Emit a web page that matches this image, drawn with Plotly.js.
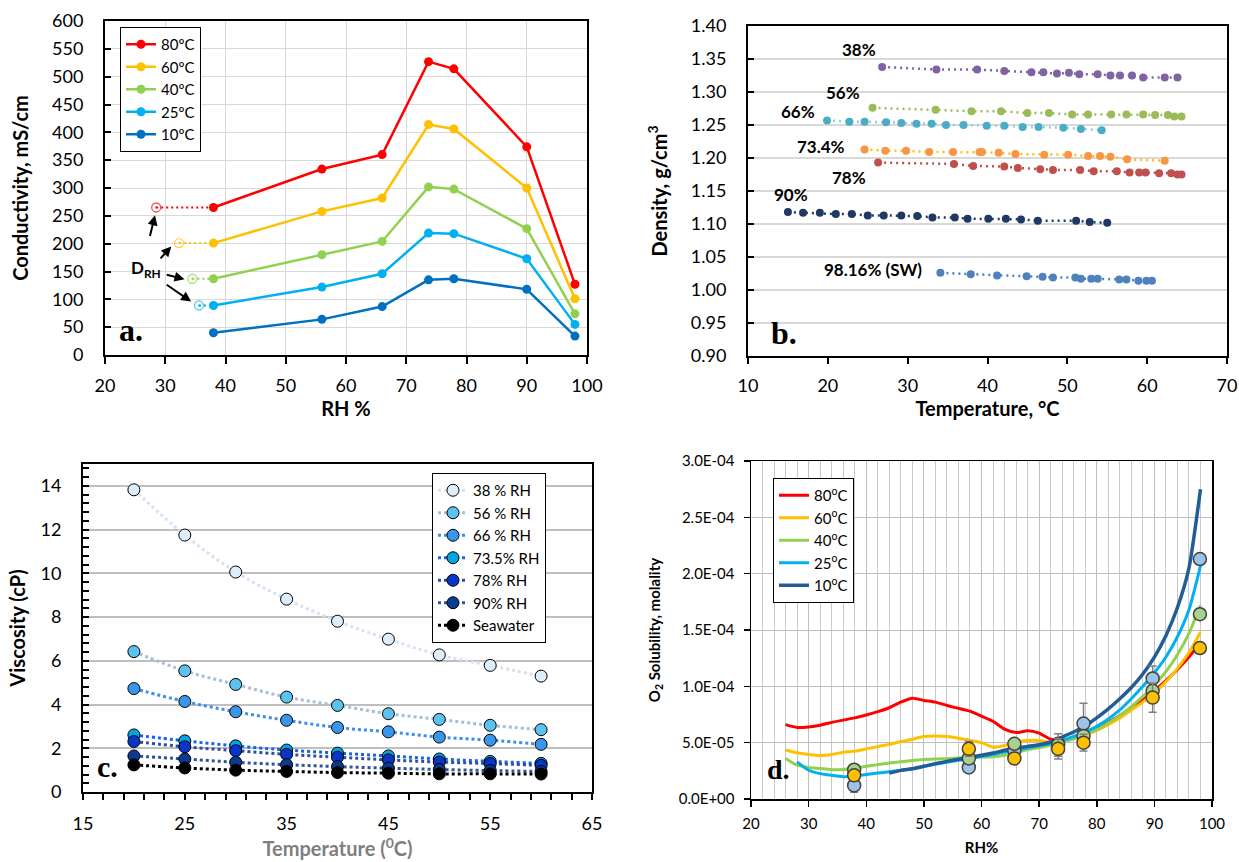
<!DOCTYPE html>
<html>
<head>
<meta charset="utf-8">
<script src="https://cdn.plot.ly/plotly-3.0.1.min.js"></script>
<style>html,body{margin:0;padding:0;background:#fff}#chart{width:1239px;height:862px}</style>
</head>
<body>
<div id="chart"></div>
<script>
// ---------- Panel a: conductivity vs RH ----------
const aRH = [38, 56, 66, 73.7, 77.9, 90, 98];
const aNames = ['80ºC', '60ºC', '40ºC', '25ºC', '10ºC'];
const a80 = [265, 334, 360, 527, 514, 374, 127];
const a60 = [201, 258, 282, 414, 406, 300, 101];
const a40 = [137, 180, 204, 302, 298, 227, 74];
const a25 = [89, 122, 146, 219, 218, 173, 55];
const a10 = [40, 64, 87, 135, 137, 118, 34];
const aDrhRH = [28.5, 32.3, 34.5, 35.6];
const aDrhVal = [265, 201, 137, 89];

// ---------- Panel b: density vs temperature ----------
const bLabels = ['38%', '56%', '66%', '73.4%', '78%', '90%', '98.16% (SW)'];
const b38T = [26.8, 33.6, 38.7, 42.1, 45.5, 47.0, 48.7, 50.2, 51.5, 53.8, 55.4, 56.6, 58.1, 59.5, 62.2, 63.8];
const b38D = [1.338, 1.334, 1.334, 1.332, 1.330, 1.330, 1.328, 1.329, 1.327, 1.327, 1.325, 1.325, 1.325, 1.322, 1.322, 1.322];
const b56T = [25.6, 33.5, 38.0, 41.7, 45.0, 47.7, 50.6, 52.6, 55.5, 57.4, 59.5, 61.0, 62.6, 63.4, 64.3];
const b56D = [1.276, 1.273, 1.271, 1.271, 1.268, 1.268, 1.266, 1.266, 1.266, 1.266, 1.266, 1.265, 1.265, 1.263, 1.263];
const b66T = [19.9, 22.7, 24.6, 27.3, 29.2, 31.1, 33.0, 34.8, 37.0, 39.9, 42.1, 44.4, 46.4, 49.5, 51.7, 54.3];
const b66D = [1.257, 1.255, 1.255, 1.254, 1.253, 1.252, 1.252, 1.250, 1.250, 1.249, 1.249, 1.247, 1.247, 1.246, 1.244, 1.242];
const b73T = [24.6, 27.2, 29.8, 32.7, 35.7, 39.0, 39.3, 41.4, 43.5, 47.1, 50.1, 52.6, 54.1, 55.4, 57.5, 62.2];
const b73D = [1.213, 1.211, 1.211, 1.209, 1.209, 1.209, 1.209, 1.208, 1.206, 1.205, 1.205, 1.203, 1.203, 1.202, 1.198, 1.196];
const b78T = [26.3, 35.8, 38.2, 42.1, 43.8, 46.6, 48.2, 51.6, 53.3, 56.2, 57.8, 59.0, 59.8, 61.5, 63.0, 63.8, 64.3];
const b78D = [1.193, 1.191, 1.188, 1.187, 1.185, 1.183, 1.182, 1.182, 1.180, 1.180, 1.178, 1.178, 1.178, 1.177, 1.177, 1.175, 1.175];
const b90T = [15.0, 16.9, 19.0, 21.0, 23.0, 25.0, 27.0, 29.2, 31.2, 33.1, 35.9, 37.5, 40.1, 42.3, 44.2, 46.3, 51.1, 52.8, 55.0];
const b90D = [1.118, 1.117, 1.117, 1.115, 1.115, 1.113, 1.113, 1.113, 1.112, 1.110, 1.110, 1.108, 1.108, 1.108, 1.107, 1.105, 1.105, 1.103, 1.102];
const bSWT = [34.1, 37.9, 41.2, 44.9, 46.9, 48.2, 51.0, 51.7, 53.0, 53.8, 56.5, 57.4, 58.9, 59.9, 60.6];
const bSWD = [1.026, 1.024, 1.022, 1.021, 1.020, 1.019, 1.019, 1.017, 1.017, 1.017, 1.016, 1.016, 1.014, 1.014, 1.014];

// ---------- Panel c: viscosity vs temperature ----------
const cT = [20, 25, 30, 35, 40, 45, 50, 55, 60];
const cNames = ['38 % RH', '56 % RH', '66 % RH', '73.5% RH', '78% RH', '90% RH', 'Seawater'];
const c38 = [13.82, 11.75, 10.06, 8.82, 7.81, 6.99, 6.27, 5.79, 5.30];
const c56 = [6.42, 5.54, 4.92, 4.34, 3.96, 3.58, 3.32, 3.05, 2.85];
const c66 = [4.73, 4.14, 3.67, 3.28, 2.95, 2.75, 2.51, 2.37, 2.18];
const c73 = [2.61, 2.34, 2.11, 1.92, 1.78, 1.65, 1.51, 1.40, 1.31];
const c78 = [2.31, 2.07, 1.89, 1.72, 1.59, 1.47, 1.37, 1.30, 1.22];
const c90 = [1.65, 1.51, 1.36, 1.25, 1.16, 1.09, 1.03, 0.98, 0.94];
const cSW = [1.24, 1.10, 1.00, 0.94, 0.89, 0.86, 0.83, 0.83, 0.82];

// ---------- Panel d: O2 solubility vs RH ----------
const dNames = ['80<sup>o</sup>C', '60<sup>o</sup>C', '40<sup>o</sup>C', '25<sup>o</sup>C', '10<sup>o</sup>C'];
const dRH = [26, 28, 30, 32, 34, 36, 38, 40, 42, 44, 46, 48, 50, 52, 54, 56, 58, 60, 62, 64, 66, 68, 70, 72, 74, 76, 78, 80, 82, 84, 86, 88, 90, 92, 94, 96, 98];
const d80 = [6.6e-5, 6.35e-5, 6.4e-5, 6.55e-5, 6.8e-5, 7.0e-5, 7.2e-5, 7.45e-5, 7.75e-5, 8.1e-5, 8.6e-5, 8.95e-5, 8.75e-5, 8.6e-5, 8.3e-5, 8.05e-5, 7.8e-5, 7.35e-5, 6.9e-5, 6.2e-5, 5.9e-5, 6.05e-5, 5.85e-5, 5.3e-5, 5.2e-5, 5.4e-5, 5.9e-5, 6.35e-5, 6.8e-5, 7.4e-5, 8.1e-5, 8.8e-5, 9.6e-5, 10.5e-5, 11.5e-5, 12.6e-5, 13.9e-5];
const d60 = [4.35e-5, 4.1e-5, 3.95e-5, 3.85e-5, 3.95e-5, 4.15e-5, 4.25e-5, 4.45e-5, 4.65e-5, 4.85e-5, 5.1e-5, 5.3e-5, 5.55e-5, 5.6e-5, 5.55e-5, 5.4e-5, 5.2e-5, 5.0e-5, 4.6e-5, 4.75e-5, 5.1e-5, 5.2e-5, 5.2e-5, 5.0e-5, 5.1e-5, 5.35e-5, 5.7e-5, 6.1e-5, 6.6e-5, 7.2e-5, 7.9e-5, 8.6e-5, 9.4e-5, 10.4e-5, 11.6e-5, 13.0e-5, 14.8e-5];
const d40 = [3.6e-5, 3.0e-5, 2.8e-5, 2.7e-5, 2.6e-5, 2.62e-5, 2.75e-5, 2.9e-5, 3.05e-5, 3.2e-5, 3.3e-5, 3.42e-5, 3.5e-5, 3.55e-5, 3.58e-5, 3.64e-5, 3.72e-5, 3.73e-5, 3.75e-5, 3.88e-5, 4.08e-5, 4.38e-5, 4.56e-5, 4.76e-5, 5.05e-5, 5.35e-5, 5.75e-5, 6.15e-5, 6.75e-5, 7.4e-5, 8.2e-5, 9.1e-5, 10.1e-5, 11.3e-5, 12.8e-5, 14.7e-5, 17.2e-5];
const d25RH = [28, 30, 32, 34, 36, 38, 40, 42, 44, 46, 48, 50, 52, 54, 56, 58, 60, 62, 64, 66, 68, 70, 72, 74, 76, 78, 80, 82, 84, 86, 88, 90, 92, 94, 96, 98];
const d25 = [3.3e-5, 2.55e-5, 2.25e-5, 2.1e-5, 1.98e-5, 2.05e-5, 2.18e-5, 2.3e-5, 2.42e-5, 2.54e-5, 2.68e-5, 2.9e-5, 3.08e-5, 3.25e-5, 3.43e-5, 3.6e-5, 3.78e-5, 3.96e-5, 4.16e-5, 4.32e-5, 4.53e-5, 4.73e-5, 4.91e-5, 5.2e-5, 5.55e-5, 5.95e-5, 6.45e-5, 7.1e-5, 7.9e-5, 8.9e-5, 10.0e-5, 11.2e-5, 12.6e-5, 14.4e-5, 16.8e-5, 20.7e-5];
const d10RH = [44, 46, 48, 50, 52, 54, 56, 58, 60, 62, 64, 66, 68, 70, 72, 74, 76, 78, 80, 82, 84, 86, 88, 90, 92, 94, 96, 98];
const d10 = [2.3e-5, 2.54e-5, 2.68e-5, 2.9e-5, 3.14e-5, 3.34e-5, 3.52e-5, 3.7e-5, 3.88e-5, 4.08e-5, 4.32e-5, 4.53e-5, 4.67e-5, 4.82e-5, 5.06e-5, 5.5e-5, 5.95e-5, 6.5e-5, 7.2e-5, 8.0e-5, 8.9e-5, 9.9e-5, 11.1e-5, 12.6e-5, 14.5e-5, 17.0e-5, 20.5e-5, 27.5e-5];
const dPtRH = [37.9, 57.8, 65.7, 73.3, 77.7, 89.7, 97.9];
const dPtBlue = [1.2e-5, 2.8e-5, 4.3e-5, 4.9e-5, 6.7e-5, 10.7e-5, 21.3e-5];
const dPtGreen = [2.6e-5, 3.6e-5, 4.9e-5, 4.8e-5, 5.6e-5, 9.6e-5, 16.4e-5];
const dPtYellow = [2.1e-5, 4.45e-5, 3.6e-5, 4.45e-5, 5.0e-5, 9.0e-5, 13.4e-5];
const dErrBlue = [0.6e-5, 0, 0, 0, 1.8e-5, 1.1e-5, 0.4e-5];
const dErrGreen = [0, 0, 0, 1.0e-5, 0, 0, 0];
const dErrYellow = [0, 0.65e-5, 0.5e-5, 0.9e-5, 0.75e-5, 1.3e-5, 0];
const dTickVals = [0, 5e-5, 1e-4, 1.5e-4, 2e-4, 2.5e-4, 3e-4];
const dTickText = ['0.0E+00', '5.0E-05', '1.0E-04', '1.5E-04', '2.0E-04', '2.5E-04', '3.0E-04'];

// ---------- styling ----------
const FONT = 'Lato, "Liberation Sans", Arial, sans-serif';
const SERIF = '"Liberation Serif", "Times New Roman", serif';
const W = 1239, H = 862;
const px = v => v / W, py = v => 1 - v / H;

const traces = [];

// Panel a
const aCols = ['#FF0000', '#FFC000', '#92D050', '#00B0F0', '#0070C0'];
[a80, a60, a40, a25, a10].forEach((vals, i) => {
  traces.push({x: aRH, y: vals, name: aNames[i], type: 'scatter', mode: 'lines+markers',
    xaxis: 'x', yaxis: 'y', legend: 'legend',
    line: {color: aCols[i], width: 2.5}, marker: {color: aCols[i], size: 9}});
});
aDrhRH.forEach((rh, i) => {
  traces.push({x: [rh, aRH[0]], y: [aDrhVal[i], aDrhVal[i]], type: 'scatter', mode: 'lines+markers',
    xaxis: 'x', yaxis: 'y', showlegend: false, hoverinfo: 'skip',
    line: {color: aCols[i], width: 2, dash: '2px,3px'},
    marker: {symbol: ['circle-open-dot', 'circle'], size: [9, 0], color: aCols[i], line: {width: 1.3, color: aCols[i]}}});
});

// Panel b
const bSeries = [
  [b38T, b38D, '#8064A2', '#8064A2'],
  [b56T, b56D, '#9BBB59', '#9BBB59'],
  [b66T, b66D, '#4BACC6', '#92CDDC'],
  [b73T, b73D, '#F79646', '#FFC000'],
  [b78T, b78D, '#C0504D', '#C0504D'],
  [b90T, b90D, '#1F3864', '#1F3864'],
  [bSWT, bSWD, '#4F81BD', '#4F81BD']
];
bSeries.forEach((s, i) => {
  traces.push({x: s[0], y: s[1], name: bLabels[i], type: 'scatter', mode: 'lines+markers',
    xaxis: 'x2', yaxis: 'y2', showlegend: false,
    line: {color: s[3], width: 2.5, dash: '2px,4px'}, marker: {color: s[2], size: 8}});
});

// Panel c
const cMarker = ['#DDEEFA', '#5CC3F0', '#3A96EB', '#00A6E4', '#0A35C8', '#0B3B8F', '#000000'];
const cLine = ['#D6E2F2', '#A9BCD8', '#3D8EF0', '#1565E8', '#2F4F9F', '#2E5597', '#000000'];
[c38, c56, c66, c73, c78, c90, cSW].forEach((vals, i) => {
  traces.push({x: cT, y: vals, name: cNames[i], type: 'scatter', mode: 'lines+markers',
    xaxis: 'x3', yaxis: 'y3', legend: 'legend2',
    line: {color: cLine[i], width: 3, dash: 'dot', shape: 'spline', smoothing: 1},
    marker: {color: cMarker[i], size: 12, line: {color: '#000', width: 1}}});
});

// Panel d
const dCols = ['#FF0000', '#FFC000', '#92D050', '#00B0F0', '#235D96'];
const dCurves = [[dRH, d80], [dRH, d60], [dRH, d40], [d25RH, d25], [d10RH, d10]];
dCurves.forEach((c, i) => {
  traces.push({x: c[0], y: c[1], name: dNames[i], type: 'scatter', mode: 'lines',
    xaxis: 'x4', yaxis: 'y4', legend: 'legend3',
    line: {color: dCols[i], width: i === 4 ? 3.5 : 3, shape: 'spline', smoothing: 0.6}});
});
const dPts = [[dPtBlue, dErrBlue, '#9DC3E6'], [dPtGreen, dErrGreen, '#A9D18E'], [dPtYellow, dErrYellow, '#FFC000']];
dPts.forEach(p => {
  traces.push({x: dPtRH, y: p[0], type: 'scatter', mode: 'markers', xaxis: 'x4', yaxis: 'y4', showlegend: false,
    error_y: {type: 'data', array: p[1], visible: true, color: '#7F7F7F', thickness: 1.5, width: 4},
    marker: {color: p[2], size: 13, line: {color: '#404040', width: 1.5}}});
});

const axBase = {showline: true, linecolor: '#000', mirror: true, zeroline: false, tickcolor: '#000', automargin: false};

const layout = {
  width: W, height: H, margin: {l: 0, r: 0, t: 0, b: 0},
  paper_bgcolor: '#fff', plot_bgcolor: '#fff',
  font: {family: FONT, color: '#000'},
  hovermode: false,
  // a
  xaxis: Object.assign({}, axBase, {domain: [px(105), px(587)], anchor: 'y', range: [20, 100], tick0: 20, dtick: 10,
    showgrid: true, gridcolor: '#D9D9D9', gridwidth: 1, linewidth: 2, ticks: 'outside', ticklen: 7, tickwidth: 2,
    tickfont: {size: 18}, ticklabelstandoff: 6,
    title: {text: '<b>RH %</b>', font: {size: 20}, standoff: 2}}),
  yaxis: Object.assign({}, axBase, {domain: [py(355), py(21)], anchor: 'x', range: [0, 600], dtick: 50,
    showgrid: true, gridcolor: '#D9D9D9', gridwidth: 1, linewidth: 2, ticks: 'inside', ticklen: 6, tickwidth: 2,
    tickfont: {size: 18}, ticklabelstandoff: 16,
    title: {text: '<b>Conductivity, mS/cm</b>', font: {size: 20}, standoff: 18}}),
  // b
  xaxis2: Object.assign({}, axBase, {domain: [px(748), px(1227)], anchor: 'y2', range: [10, 70], dtick: 10,
    showgrid: false, linewidth: 2, ticks: 'outside', ticklen: 6, tickwidth: 2,
    tickfont: {size: 18}, ticklabelstandoff: 6,
    title: {text: '<b>Temperature, °C</b>', font: {size: 20}, standoff: 6}}),
  yaxis2: Object.assign({}, axBase, {domain: [py(356), py(26)], anchor: 'x2', range: [0.9, 1.4], dtick: 0.05, tickformat: '.2f',
    showgrid: true, gridcolor: '#D9D9D9', gridwidth: 2, linewidth: 2, ticks: 'inside', ticklen: 6, tickwidth: 2,
    tickfont: {size: 18}, ticklabelstandoff: 16,
    title: {text: '<b>Density, g/cm<sup>3</sup></b>', font: {size: 20}, standoff: 18}}),
  // c
  xaxis3: Object.assign({}, axBase, {domain: [px(83), px(592)], anchor: 'y3', range: [15, 65], tick0: 15, dtick: 10,
    showgrid: false, linewidth: 2, ticks: 'outside', ticklen: 6, tickwidth: 2,
    minor: {dtick: 2, tick0: 15, ticks: 'outside', ticklen: 6, tickwidth: 2, tickcolor: '#000', showgrid: false},
    tickfont: {size: 18}, ticklabelstandoff: 8,
    title: {text: '<b>Temperature (<sup>0</sup>C)</b>', font: {size: 20, color: '#7F7F7F'}, standoff: 2}}),
  yaxis3: Object.assign({}, axBase, {domain: [py(792), py(464)], anchor: 'x3', range: [0, 15], tick0: 0, dtick: 2,
    showgrid: true, gridcolor: '#BFBFBF', gridwidth: 2, linewidth: 2, ticks: 'inside', ticklen: 6, tickwidth: 2,
    minor: {dtick: 0.4, tick0: 0, ticks: 'inside', ticklen: 6, tickwidth: 2, tickcolor: '#000', showgrid: false},
    tickfont: {size: 18}, ticklabelstandoff: 16,
    title: {text: '<b>Viscosity (cP)</b>', font: {size: 20}, standoff: 10}}),
  // d
  xaxis4: Object.assign({}, axBase, {domain: [px(751), px(1212)], anchor: 'y4', range: [20, 100], tick0: 20, dtick: 10,
    showgrid: true, gridcolor: '#BFBFBF', gridwidth: 1, linewidth: 1.5, ticks: 'outside', ticklen: 6, tickwidth: 1.5,
    minor: {dtick: 2, tick0: 20, showgrid: true, gridcolor: '#C8C8C8', gridwidth: 1, ticks: ''},
    tickfont: {size: 15}, ticklabelstandoff: 4,
    title: {text: '<b>RH%</b>', font: {size: 15}, standoff: 12}}),
  yaxis4: Object.assign({}, axBase, {domain: [py(799), py(461)], anchor: 'x4', range: [0, 3e-4],
    tickvals: dTickVals, ticktext: dTickText,
    showgrid: true, gridcolor: '#BFBFBF', gridwidth: 1, linewidth: 1.5, ticks: 'outside', ticklen: 6, tickwidth: 1.5,
    tickfont: {size: 15}, ticklabelstandoff: 6,
    title: {text: '<b>O<sub>2</sub> Solubility, molality</b>', font: {size: 15}, standoff: 14}}),
  legend: {x: px(120), y: py(27), xanchor: 'left', yanchor: 'top', bgcolor: '#fff', bordercolor: '#000', borderwidth: 1,
    font: {size: 15}, itemclick: false},
  legend2: {x: px(432), y: py(473), xanchor: 'left', yanchor: 'top', bgcolor: '#fff', bordercolor: '#000', borderwidth: 1,
    font: {size: 15}, itemclick: false},
  legend3: {x: px(773), y: py(478), xanchor: 'left', yanchor: 'top', bgcolor: '#fff', bordercolor: '#000', borderwidth: 1,
    font: {size: 15}, itemclick: false},
  annotations: [
    {xref: 'x', yref: 'y', x: 24.3, y: 45, text: '<b>a.</b>', showarrow: false, font: {family: SERIF, size: 32}},
    {xref: 'x', yref: 'y', x: 26.8, y: 155, text: '<b>D<sub>RH</sub></b>', showarrow: false, font: {size: 17}},
    {xref: 'x', yref: 'y', axref: 'x', ayref: 'y', x: 28.3, y: 251, ax: 27.4, ay: 211, text: '', showarrow: true, arrowhead: 2, arrowsize: 1, arrowwidth: 2, arrowcolor: '#000'},
    {xref: 'x', yref: 'y', axref: 'x', ayref: 'y', x: 31.0, y: 195, ax: 29.0, ay: 171, text: '', showarrow: true, arrowhead: 2, arrowsize: 1, arrowwidth: 2, arrowcolor: '#000'},
    {xref: 'x', yref: 'y', axref: 'x', ayref: 'y', x: 33.2, y: 136, ax: 30.0, ay: 145, text: '', showarrow: true, arrowhead: 2, arrowsize: 1, arrowwidth: 2, arrowcolor: '#000'},
    {xref: 'x', yref: 'y', axref: 'x', ayref: 'y', x: 34.3, y: 96, ax: 30.0, ay: 128, text: '', showarrow: true, arrowhead: 2, arrowsize: 1, arrowwidth: 2, arrowcolor: '#000'},
    {xref: 'x2', yref: 'y2', x: 14.5, y: 0.935, text: '<b>b.</b>', showarrow: false, font: {family: SERIF, size: 32}},
    {xref: 'x2', yref: 'y2', x: 23.9, y: 1.364, text: '<b>' + bLabels[0] + '</b>', showarrow: false, font: {size: 17}},
    {xref: 'x2', yref: 'y2', x: 21.9, y: 1.299, text: '<b>' + bLabels[1] + '</b>', showarrow: false, font: {size: 17}},
    {xref: 'x2', yref: 'y2', x: 16.2, y: 1.271, text: '<b>' + bLabels[2] + '</b>', showarrow: false, font: {size: 17}},
    {xref: 'x2', yref: 'y2', x: 19.1, y: 1.218, text: '<b>' + bLabels[3] + '</b>', showarrow: false, font: {size: 17}},
    {xref: 'x2', yref: 'y2', x: 22.7, y: 1.171, text: '<b>' + bLabels[4] + '</b>', showarrow: false, font: {size: 17}},
    {xref: 'x2', yref: 'y2', x: 15.4, y: 1.144, text: '<b>' + bLabels[5] + '</b>', showarrow: false, font: {size: 17}},
    {xref: 'x2', yref: 'y2', x: 25.6, y: 1.031, text: '<b>' + bLabels[6] + '</b>', showarrow: false, font: {size: 17}},
    {xref: 'x3', yref: 'y3', x: 17.4, y: 1.15, text: '<b>c.</b>', showarrow: false, font: {family: SERIF, size: 30}},
    {xref: 'x4', yref: 'y4', x: 24.8, y: 2.6e-5, text: '<b>d.</b>', showarrow: false, font: {family: SERIF, size: 28}}
  ]
};

Plotly.newPlot('chart', traces, layout, {staticPlot: true, displayModeBar: false});
</script>
</body>
</html>
